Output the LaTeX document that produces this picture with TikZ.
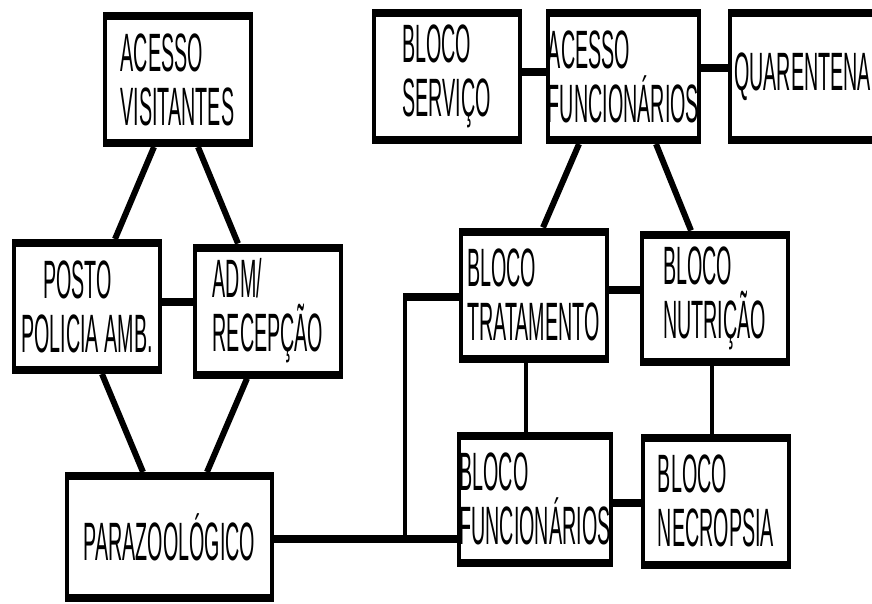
\documentclass[tikz,border=0pt]{standalone}
\usepackage{fontspec}
\setmainfont{Liberation Sans}[FakeStretch=0.365]
\usetikzlibrary{calc}

\begin{document}
\begin{tikzpicture}[x=1pt,y=-1pt,
    bloco/.style={draw,rectangle,line width=4pt,inner sep=0pt,align=left,
      minimum width=146pt,minimum height=131pt,
      font=\fontsize{54}{54}\selectfont,
      path picture={\draw[line width=12pt]
        (path picture bounding box.north west) -- (path picture bounding box.north east)
        (path picture bounding box.south west) -- (path picture bounding box.south east);}},
    hlink/.style={line width=8pt},
    vlink/.style={line width=4pt},
    dlink/.style={line width=6pt}]
    \useasboundingbox (0,0) rectangle (872,603);

    \node[bloco] (acv) at (177.5,79.5) {ACESSO\\VISITANTES};
    \node[bloco] (posto) at (87,306.5) {\hspace*{22pt}POSTO\\POLICIA AMB.};
    \node[bloco] (adm) at (268,311) {ADM/\\RECEPÇÃO};
    \node[bloco,minimum width=205pt,minimum height=126pt] (paraz) at (169.5,537) {PARAZOOLÓGICO};
    \node[bloco] (serv) at (446.5,76.5) {BLOCO\\SERVIÇO};
    \node[bloco] (acf) at (623.5,76.5) {ACESSO\\FUNCIONÁRIOS};
    \node[bloco] (quar) at (802.5,76.5) {QUARENTENA};
    \node[bloco] (trat) at (533.5,295) {BLOCO\\TRATAMENTO};
    \node[bloco] (nutr) at (714.5,298) {BLOCO\\NUTRIÇÃO};
    \node[bloco] (func) at (535,499) {BLOCO\\FUNCIONÁRIOS};
    \node[bloco] (necro) at (716,501) {BLOCO\\NECROPSIA};

    \draw[dlink] ([xshift=-23.5pt]acv.south) -- ([xshift=28pt]posto.north);
    \draw[dlink] ([xshift=20.5pt]acv.south) -- ([xshift=-30pt]adm.north);
    \draw[dlink] ([xshift=15pt]posto.south) -- ([xshift=-26.5pt]paraz.north);
    \draw[dlink] ([xshift=-21pt]adm.south) -- ([xshift=37.5pt]paraz.north);
    \draw[dlink] ([xshift=-44.5pt]acf.south) -- ([xshift=9.5pt]trat.north);
    \draw[dlink] ([xshift=32.5pt]acf.south) -- ([xshift=-23.5pt]nutr.north);

    \draw[hlink] ([yshift=4.5pt]posto.east) coordinate (pa) -- (pa -| adm.west);
    \draw[hlink] ([yshift=4.5pt]serv.east) coordinate (sa) -- (sa -| acf.west);
    \draw[hlink] ([yshift=8.5pt]acf.east) coordinate (aq) -- (aq -| quar.west);
    \draw[hlink] ([yshift=5pt]trat.east) coordinate (tn) -- (tn -| nutr.west);
    \draw[hlink] ([yshift=-4pt]func.east) coordinate (fn) -- (fn -| necro.west);
    \draw[vlink] ([xshift=-7.5pt]trat.south) coordinate (tf) -- (tf |- func.north);
    \draw[vlink] ([xshift=-2.5pt]nutr.south) coordinate (nn) -- (nn |- necro.north);

    \draw[hlink] ([yshift=-2pt]paraz.east) coordinate (pz) -- (pz -| func.west);
    \coordinate (jn) at (405,539);
    \coordinate (jt) at (405,297);
    \draw[vlink] (jn) -- (jt);
    \draw[hlink] ([xshift=-2pt]jt) -- (jt -| trat.west);
\end{tikzpicture}
\end{document}
